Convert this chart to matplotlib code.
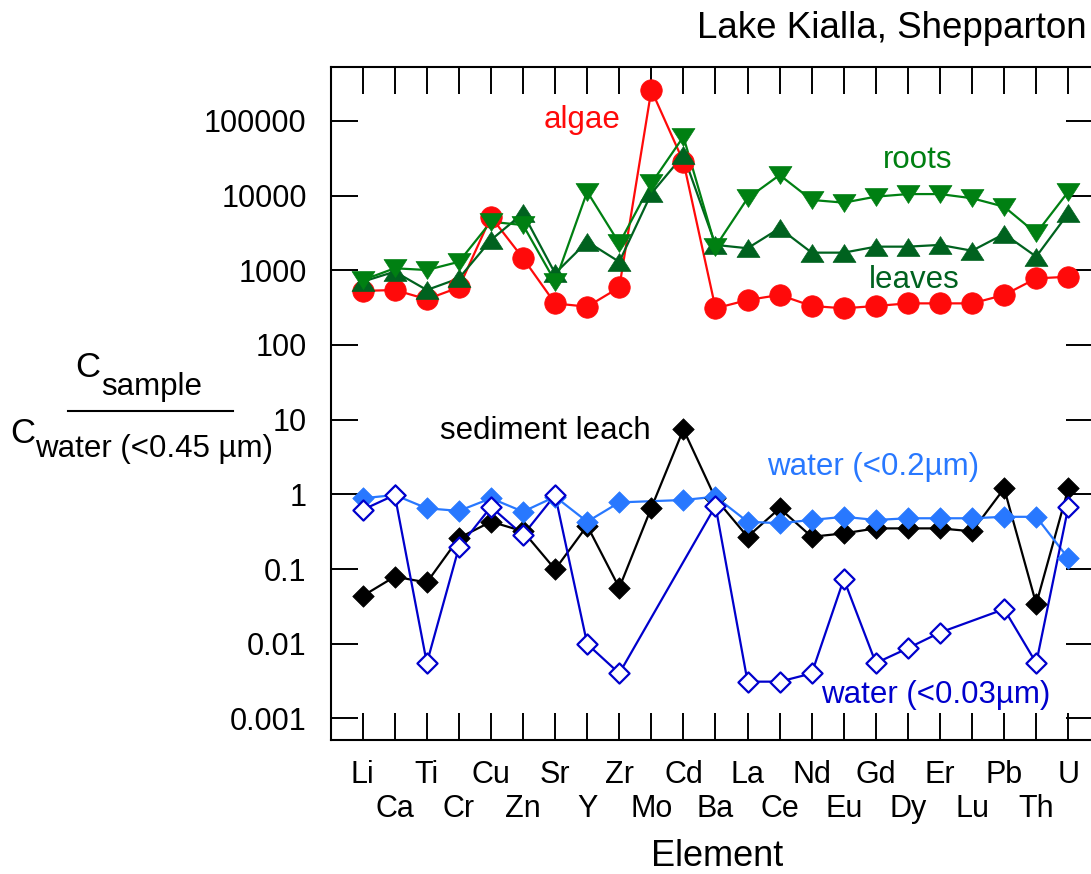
import numpy as np
import matplotlib
matplotlib.use("Agg")
import matplotlib.pyplot as plt
from matplotlib.path import Path
from matplotlib.lines import Line2D
from matplotlib.ticker import FixedLocator, FixedFormatter, NullLocator

plt.rcParams['font.family'] = ['Liberation Sans', 'DejaVu Sans']

nan = np.nan

# elements along the x axis
elements = ['Li', 'Ca', 'Ti', 'Cr', 'Cu', 'Zn', 'Sr', 'Y', 'Zr', 'Mo', 'Cd', 'Ba',
            'La', 'Ce', 'Nd', 'Eu', 'Gd', 'Dy', 'Er', 'Lu', 'Pb', 'Th', 'U']

# C_sample / C_water(<0.45 um)
algae = [530, 545, 410, 590, 5200, 1450, 360, 326, 590, 260000, 28500, 310,
         400, 468, 333, 310, 333, 361, 361, 361, 468, 780, 820]
leaves = [705, 960, 545, 780, 2550, 5800, 910, 2420, 1300, 10700, 35000, 2190,
          1975, 3660, 1725, 1725, 2075, 2075, 2190, 1830, 3070, 1525, 5800]
roots = [740, 1065, 1010, 1300, 4470, 4040, 705, 11300, 2300, 14600, 61600, 2075,
         9230, 18900, 8760, 8060, 9700, 10500, 10500, 9230, 7110, 3130, 11300]
sediment_leach = [0.0435, 0.079, 0.066, 0.26, 0.43, 0.32, 0.099, 0.38, 0.056, 0.66, 7.4, 0.88,
                  0.27, 0.65, 0.27, 0.30, 0.35, 0.35, 0.35, 0.32, 1.2, 0.034, 1.2]
water_02 = [0.885, 0.98, 0.65, 0.60, 0.885, 0.586, 0.93, 0.43, 0.78, nan, 0.84, 0.93,
            0.43, 0.41, 0.454, 0.50, 0.454, 0.478, 0.478, 0.478, 0.50, 0.50, 0.139]
water_003 = [0.62, 0.98, 0.0055, 0.195, 0.68, 0.285, 0.98, 0.0099, 0.0040, nan, nan, 0.70,
             0.0031, 0.0031, 0.0040, 0.073, 0.0055, 0.0087, 0.0141, nan, 0.029, 0.0055, 0.675]

ytick_vals = [0.001, 0.01, 0.1, 1, 10, 100, 1000, 10000, 100000]
ytick_text = ['0.001', '0.01', '0.1', '1', '10', '100', '1000', '10000', '100000']

W, H = 1091, 874
fig = plt.figure(figsize=(W / 100, H / 100), dpi=100)
ax = fig.add_axes([331 / W, 1 - 740 / H, (1093 - 331) / W, (740 - 67) / H])


def ptext(x, y, s, **kw):
    # place text by pixel position measured from the top-left corner
    return fig.text(x / W, 1 - y / H, s, **kw)


diamond = Path([(0, 1), (1, 0), (0, -1), (-1, 0), (0, 1)], closed=True)
tri_up = Path([(-1, -0.78), (1, -0.78), (0, 0.78), (-1, -0.78)], closed=True)
tri_dn = Path([(-1, 0.78), (1, 0.78), (0, -0.78), (-1, 0.78)], closed=True)

series = [
    (algae, '#ff0a0a', 'o', 15.5, '#ff0a0a'),
    (leaves, '#00621f', tri_up, 16.5, '#00621f'),
    (roots, '#008012', tri_dn, 16.5, '#008012'),
    (sediment_leach, 'black', diamond, 15.5, 'black'),
    (water_02, '#2878ff', diamond, 15.5, '#2878ff'),
    (water_003, '#0000cc', diamond, 14.5, 'white'),
]

x = np.arange(len(elements))
for i, (vals, col, mk, ms, fc) in enumerate(series):
    v = np.array(vals, dtype=float)
    ok = np.isfinite(v)
    ax.plot(x[ok], v[ok], '-', color=col, lw=1.6, zorder=2)
    ax.plot(x[ok], v[ok], ls='none', marker=mk, ms=ms, mfc=fc, mec=col,
            mew=1.6 if fc == 'white' else 0.5, zorder=3 + i)

ax.set_yscale('log')
ax.set_xlim(-0.988, 22.77)
ax.set_ylim(10 ** -3.29, 10 ** 5.723)

ax.yaxis.set_major_locator(FixedLocator(ytick_vals))
ax.yaxis.set_major_formatter(FixedFormatter(ytick_text))
ax.yaxis.set_minor_locator(NullLocator())

# two staggered rows of element labels: even ones on major ticks, odd ones on minor
ax.set_xticks(x[::2])
ax.set_xticklabels(elements[::2])
ax.set_xticks(x[1::2], minor=True)
ax.set_xticklabels(elements[1::2], minor=True)

ax.tick_params(which='both', direction='in', length=19.5, width=1.4,
               top=True, right=True, labelsize=22)
ax.tick_params(axis='x', which='major', pad=14.2)
ax.tick_params(axis='x', which='minor', pad=39.2)
ax.tick_params(axis='y', pad=17.5)
for s in ax.spines.values():
    s.set_linewidth(1.5)

# title and axis title
ptext(1087, 38.5, 'Lake Kialla, Shepparton', ha='right', va='baseline', fontsize=26.5)
ptext(717, 866, 'Element', ha='center', va='baseline', fontsize=26)

# y label as a fraction
ptext(75, 377, 'C', va='baseline', fontsize=25)
ptext(101, 395, 'sample', va='baseline', fontsize=22.5)
fig.add_artist(Line2D([68 / W, 233 / W], [1 - 411 / H, 1 - 411 / H], color='black', lw=1.5))
ptext(10, 443, 'C', va='baseline', fontsize=25)
ptext(35, 457, 'water (<0.45 µm)', va='baseline', fontsize=22.5)

# series labels
ptext(544, 128.3, 'algae', color='#ff0a0a', va='baseline', fontsize=22.5)
ptext(883, 168.3, 'roots', color='#008012', va='baseline', fontsize=22.5)
ptext(869, 288.3, 'leaves', color='#00621f', va='baseline', fontsize=22.5)
ptext(440, 439.3, 'sediment leach', color='black', va='baseline', fontsize=22.5)
ptext(767, 475.3, 'water (<0.2µm)', color='#2878ff', va='baseline', fontsize=22.5)
ptext(821, 703.3, 'water (<0.03µm)', color='#0000cc', va='baseline', fontsize=22.5)

fig.savefig('out.png', dpi=100)
